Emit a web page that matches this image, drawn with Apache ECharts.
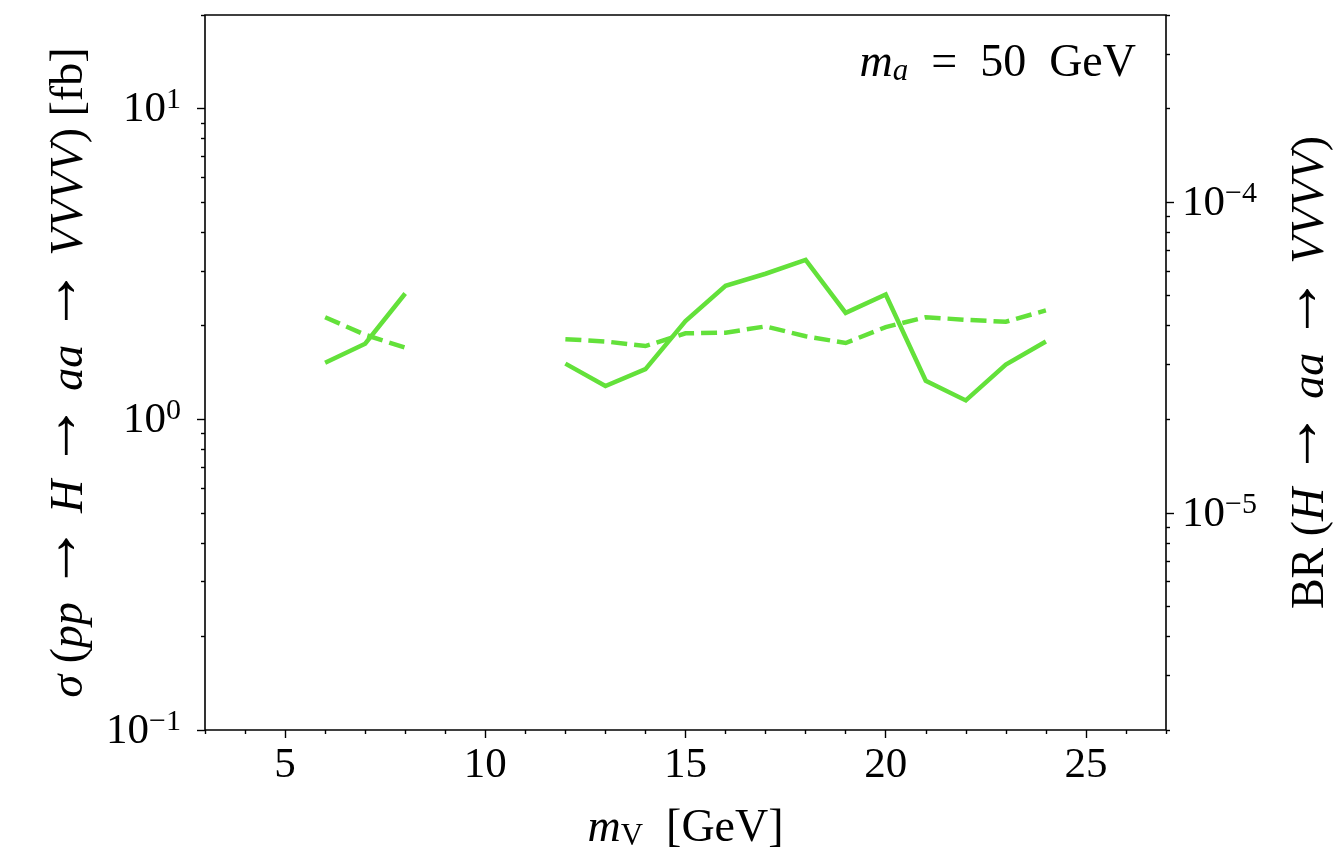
<!DOCTYPE html>
<html>
<head>
<meta charset="utf-8">
<script src="https://cdn.jsdelivr.net/npm/echarts@6/dist/echarts.min.js"></script>
<style>
html, body { margin: 0; padding: 0; background: #ffffff; }
#chart { width: 1339px; height: 856px; }
</style>
</head>
<body>
<div id="chart"></div>
<script>
// Vector mass scan, m_a = 50 GeV
const massV = [6, 7, 8, 9, 10, 11, 12, 13, 14, 15, 16, 17, 18, 19, 20, 21, 22, 23, 24];
const sigmaSolid  = [1.52, 1.75, 2.54, null, null, null, 1.51, 1.28, 1.45, 2.07, 2.69, 2.94, 3.26, 2.20, 2.52, 1.33, 1.15, 1.50, 1.78];
const sigmaDashed = [2.13, 1.87, 1.70, null, null, null, 1.81, 1.78, 1.72, 1.89, 1.90, 1.99, 1.85, 1.76, 1.98, 2.13, 2.09, 2.06, 2.24];

// Axis ranges and ticks
const massRange = [3, 27];
const xMajorTicks = [5, 10, 15, 20, 25];
const xMinorTicks = [3, 4, 6, 7, 8, 9, 11, 12, 13, 14, 16, 17, 18, 19, 21, 22, 23, 24, 26, 27];
const sigmaRange = [0.1, 20];
const sigmaMajorTicks = [0.1, 1, 10];
const sigmaMinorTicks = [0.2, 0.3, 0.4, 0.5, 0.6, 0.7, 0.8, 0.9, 2, 3, 4, 5, 6, 7, 8, 9, 20];
const brRange = [2e-6, 4e-4];
const brMajorTicks = [1e-5, 1e-4];
const brMinorTicks = [2e-6, 3e-6, 4e-6, 5e-6, 6e-6, 7e-6, 8e-6, 9e-6,
                      2e-5, 3e-5, 4e-5, 5e-5, 6e-5, 7e-5, 8e-5, 9e-5,
                      2e-4, 3e-4, 4e-4];

const lineColor = '#63e13a';
const FONT = '"Liberation Serif", "DejaVu Serif", serif';
const SIZE = 43;
const TITLE = 46;

const log10 = v => Math.log10(v);
const pairs = ys => massV.map((x, i) => [x, ys[i]]);

const supLabel = v => {
  const e = Math.round(Math.log10(v));
  if (Math.abs(Math.log10(v) - e) > 1e-6) return '';
  return '{b|10}{s|' + (e < 0 ? '\u2212' + (-e) : String(e)) + '}';
};

const labelRich = {
  b: { fontFamily: FONT, fontSize: SIZE, color: '#000', lineHeight: 46, verticalAlign: 'bottom' },
  s: { fontFamily: FONT, fontSize: 30, color: '#000', lineHeight: 30, verticalAlign: 'top' }
};
const base = { fontFamily: FONT, fontWeight: 'normal', color: '#000', verticalAlign: 'bottom' };
const nameRich = {
  i: Object.assign({}, base, { fontStyle: 'italic', fontSize: TITLE, lineHeight: 52 }),
  r: Object.assign({}, base, { fontSize: TITLE, lineHeight: 52 }),
  ar: Object.assign({}, base, { fontSize: 66, lineHeight: 58 }),
  sub: Object.assign({}, base, { fontSize: 31, lineHeight: 18 }),
  subi: Object.assign({}, base, { fontStyle: 'italic', fontSize: 31, lineHeight: 18 })
};
const arrow = '{r| }{ar|\u2192}{r| }';

// tick-only axis laid over a log axis, in log10 units
const tickAxis = (range, values, position, len) => ({
  type: 'value', position: position, gridIndex: 0,
  min: log10(range[0]), max: log10(range[1]),
  axisLine: { show: false, onZero: false }, splitLine: { show: false },
  axisLabel: { show: false },
  axisTick: { show: true, inside: false, length: len, customValues: values.map(log10),
              lineStyle: { color: '#000', width: 1.4 } }
});

const chart = echarts.init(document.getElementById('chart'), null, { renderer: 'canvas' });
chart.setOption({
  animation: false,
  backgroundColor: '#ffffff',
  grid: { left: 205, right: 173, top: 15, bottom: 126, show: true,
          outerBoundsMode: 'none', containLabel: false,
          borderColor: '#000', borderWidth: 1.6, backgroundColor: 'transparent' },
  title: {
    text: '{i|m}{subi|a}{r|  =  50  GeV}',
    right: 198, top: 30,
    textStyle: { fontWeight: 'normal', rich: nameRich }
  },
  xAxis: [
    {
      type: 'value', min: massRange[0], max: massRange[1], position: 'bottom',
      axisLine: { show: false, onZero: false }, splitLine: { show: false },
      axisTick: { show: true, length: 8, customValues: xMajorTicks, lineStyle: { color: '#000', width: 1.4 } },
      axisLabel: { customValues: xMajorTicks, margin: 14, fontFamily: FONT, fontSize: SIZE, color: '#000' },
      name: '{i|m}{sub|V}{r|  [GeV]}', nameLocation: 'middle', nameGap: 70,
      nameTextStyle: { rich: nameRich }
    },
    {
      type: 'value', min: massRange[0], max: massRange[1], position: 'bottom',
      axisLine: { show: false, onZero: false }, splitLine: { show: false }, axisLabel: { show: false },
      axisTick: { show: true, length: 4, customValues: xMinorTicks, lineStyle: { color: '#000', width: 1.4 } }
    }
  ],
  yAxis: [
    {
      type: 'log', logBase: 10, min: sigmaRange[0], max: sigmaRange[1], position: 'left',
      axisLine: { show: false, onZero: false }, axisTick: { show: false }, splitLine: { show: false },
      axisLabel: { margin: 24, formatter: supLabel, rich: labelRich },
      name: '{i|σ}{r| (}{i|pp}' + arrow + '{i|H}' + arrow + '{i|aa}' + arrow + '{i|VVVV}{r|) [fb]}',
      nameLocation: 'middle', nameRotate: 90, nameGap: 112,
      nameTextStyle: { rich: nameRich }
    },
    {
      type: 'log', logBase: 10, min: brRange[0], max: brRange[1], position: 'right',
      axisLine: { show: false, onZero: false }, axisTick: { show: false }, splitLine: { show: false },
      axisLabel: { margin: 16, formatter: supLabel, rich: labelRich },
      name: '{r|BR (}{i|H}' + arrow + '{i|aa}' + arrow + '{i|VVVV}{r|)}',
      nameLocation: 'middle', nameRotate: 90, nameGap: 110,
      nameTextStyle: { rich: nameRich }
    },
    tickAxis(sigmaRange, sigmaMajorTicks, 'left', 8),
    tickAxis(sigmaRange, sigmaMinorTicks, 'left', 4),
    tickAxis(brRange, brMajorTicks, 'right', 8),
    tickAxis(brRange, brMinorTicks, 'right', 4)
  ],
  series: [
    {
      type: 'line', xAxisIndex: 0, yAxisIndex: 0, data: pairs(sigmaSolid),
      showSymbol: false, symbol: 'none', connectNulls: false,
      lineStyle: { color: lineColor, width: 4.5, type: 'solid', cap: 'butt', join: 'miter' }
    },
    {
      type: 'line', xAxisIndex: 0, yAxisIndex: 0, data: pairs(sigmaDashed),
      showSymbol: false, symbol: 'none', connectNulls: false,
      lineStyle: { color: lineColor, width: 4.5, type: [16, 7], cap: 'butt', join: 'miter' }
    }
  ]
});
</script>
</body>
</html>
